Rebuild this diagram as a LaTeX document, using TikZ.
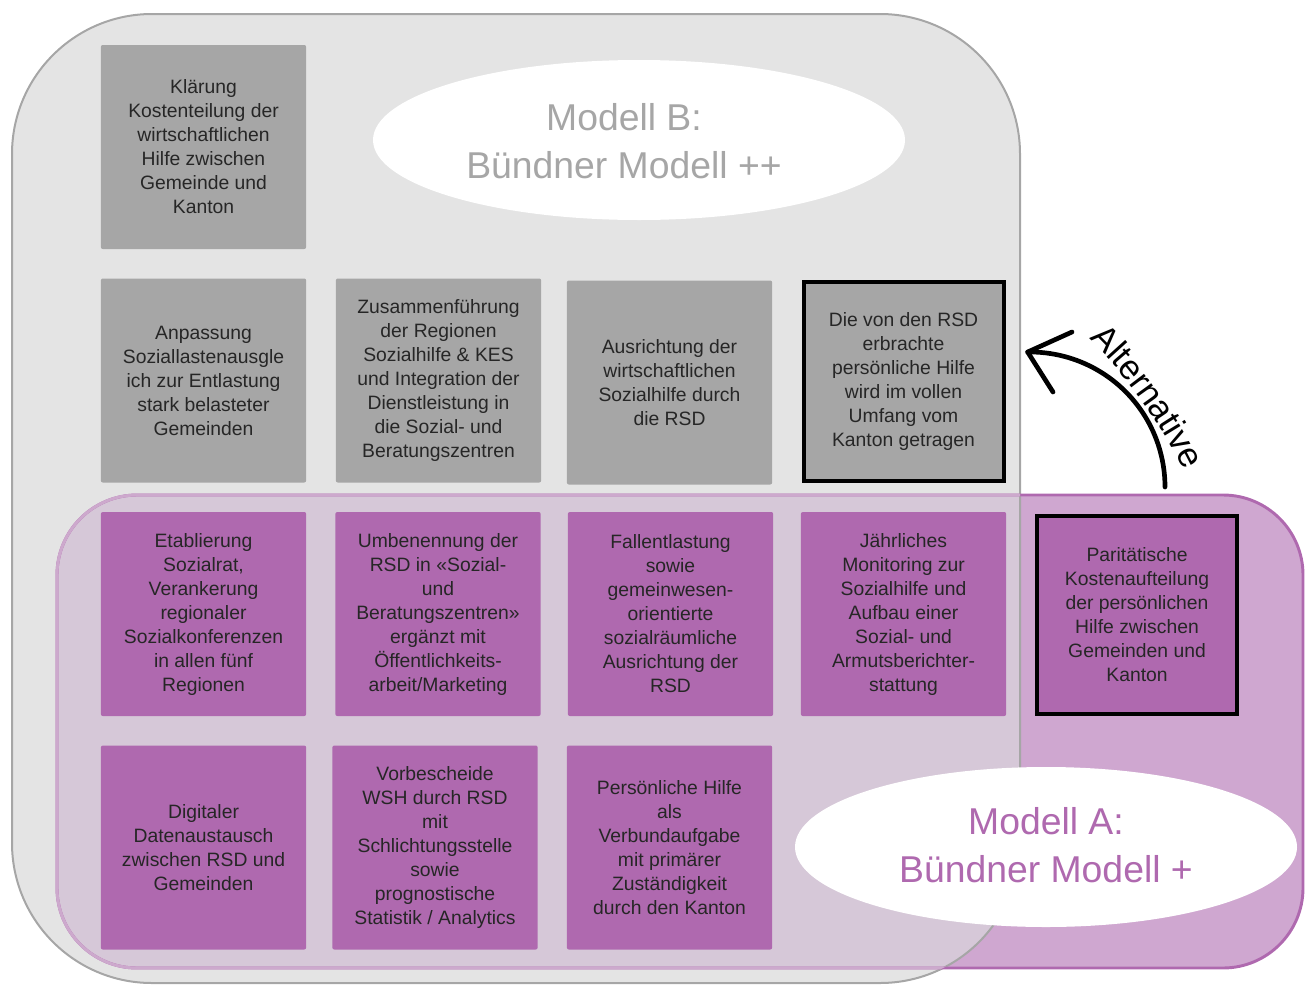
\documentclass[tikz,border=0pt]{standalone}
\usepackage{fontspec}
\setmainfont{Liberation Sans}
\usetikzlibrary{shapes.geometric}
\definecolor{grayfill}{HTML}{E4E4E4}
\definecolor{grayline}{HTML}{A6A6A6}
\definecolor{graybox}{HTML}{A6A6A6}
\definecolor{purp}{HTML}{AF69AF}
\definecolor{purpfill}{HTML}{CFA7D0}
\definecolor{purpover}{HTML}{D6C8D8}
\definecolor{purpedgein}{HTML}{CDA9CD}
\definecolor{txt}{HTML}{262626}
\begin{document}
\begin{tikzpicture}[x=0.75pt,y=0.75pt,
  box/.style={minimum width=154pt, minimum height=153pt, inner sep=0pt, align=center,
    text=txt, font=\fontsize{14.5}{18}\selectfont, rounded corners=1.5pt},
  gbox/.style={box, fill=graybox},
  pbox/.style={box, fill=purp},
  keybox/.style={draw=black, line width=3pt, rounded corners=0pt, minimum width=150pt, minimum height=149pt},
  title/.style={align=center, font=\fontsize{28}{36}\selectfont},
  bigell/.style={ellipse, fill=white, inner sep=0pt},
  altchar/.style={anchor=base, inner sep=0pt, font=\fontsize{26}{26}\selectfont, text=black},
  altline/.style={line width=3.5pt, line cap=round, line join=round}
]
\useasboundingbox (0,0) rectangle (1309,-985);
% Modell B region
\fill[grayfill, rounded corners=105pt] (12,-14) rectangle (1020,-983);
% Modell A region
\fill[purpfill, rounded corners=60pt] (57,-495) rectangle (1303,-968);
\begin{scope}
  \clip[rounded corners=105pt] (12,-14) rectangle (1020,-983);
  \fill[purpover, rounded corners=60pt] (57,-495) rectangle (1303,-968);
\end{scope}
\draw[grayline, line width=1.5pt, rounded corners=105pt] (12,-14) rectangle (1020,-983);
\draw[purp, line width=2.2pt, rounded corners=60pt] (57,-495) rectangle (1303,-968);
\begin{scope}
  \clip[rounded corners=105pt] (12,-14) rectangle (1020,-983);
  \draw[purpedgein, line width=2.2pt, rounded corners=60pt] (57,-495) rectangle (1303,-968);
\end{scope}

% grey boxes
\node[gbox] (b1) at (203.5,-147) {Klärung\\Kostenteilung der\\wirtschaftlichen\\Hilfe zwischen\\Gemeinde und\\Kanton};
\node[gbox] (b2) at (203.5,-380.5) {Anpassung\\Soziallastenausgle\\ich zur Entlastung\\stark belasteter\\Gemeinden};
\node[gbox] (b3) at (438.5,-380.5) {Zusammenführung\\der Regionen\\Sozialhilfe \& KES\\und Integration der\\Dienstleistung in\\die Sozial- und\\Beratungszentren};
\node[gbox] (b4) at (669.5,-382.5) {Ausrichtung der\\wirtschaftlichen\\Sozialhilfe durch\\die RSD};
\node[gbox, keybox] (b5) at (903.5,-381.5) {Die von den RSD\\erbrachte\\persönliche Hilfe\\wird im vollen\\Umfang vom\\Kanton getragen};

% purple boxes
\node[pbox] (a1) at (203.5,-614) {Etablierung\\Sozialrat,\\Verankerung\\regionaler\\Sozialkonferenzen\\in allen fünf\\Regionen};
\node[pbox] (a2) at (438,-614) {Umbenennung der\\RSD in «Sozial-\\und\\Beratungszentren»\\ergänzt mit\\Öffentlichkeits-\\arbeit/Marketing};
\node[pbox] (a3) at (670.5,-614) {Fallentlastung\\sowie\\gemeinwesen-\\orientierte\\sozialräumliche\\Ausrichtung der\\RSD};
\node[pbox] (a4) at (903.5,-614) {Jährliches\\Monitoring zur\\Sozialhilfe und\\Aufbau einer\\Sozial- und\\Armutsberichter-\\stattung};
\node[pbox, keybox] (a5) at (1137,-615) {Paritätische\\Kostenaufteilung\\der persönlichen\\Hilfe zwischen\\Gemeinden und\\Kanton};
\node[pbox] (a6) at (203.5,-847.5) {Digitaler\\Datenaustausch\\zwischen RSD und\\Gemeinden};
\node[pbox] (a7) at (435,-847.5) {Vorbescheide\\WSH durch RSD\\mit\\Schlichtungsstelle\\sowie\\prognostische\\Statistik / Analytics};
\node[pbox] (a8) at (669.5,-847.5) {Persönliche Hilfe\\als\\Verbundaufgabe\\mit primärer\\Zuständigkeit\\durch den Kanton};

% titles
\node[bigell, minimum width=399pt, minimum height=120pt] (mbell) at (639,-140) {};
\node[title, text=grayline] (mbtxt) at (624,-141) {Modell B:\\Bündner Modell ++};
\node[bigell, minimum width=376.5pt, minimum height=120pt] (maell) at (1046,-847) {};
\node[title, text=purp] (matxt) at (1046,-845) {Modell A:\\Bündner Modell +};

% alternative arrow
\coordinate (ac) at (1030,-487);
\coordinate (astart) at ([shift={(0:135)}]ac);
\coordinate (atip) at ([shift={(91:135)}]ac);
\coordinate (arm1) at (1072,-332);
\coordinate (arm2) at (1053,-392);
\draw[altline] (astart) arc[start angle=0, end angle=91, radius=135];
\draw[altline] (arm1) -- (atip) -- (arm2);
\foreach \ch/\ang/\rad/\rot [count=\i] in {A/64.3/155.2/-45.4, l/58.91/150.5/-47.9, t/55.73/148.1/-49.2,
    e/50.24/144.9/-51.1, r/44.22/142.4/-52.8, n/38.06/141.2/-54.3, a/30.26/141.4/-56.1,
    t/24.48/142.8/-57.5, i/21.11/144.2/-58.5, v/16.29/146.8/-60.1, e/9.55/151.8/-62.75}
  \node[altchar, rotate=\rot] (alt\i) at ([shift={(\ang:\rad)}]ac) {\ch};
\end{tikzpicture}
\end{document}
